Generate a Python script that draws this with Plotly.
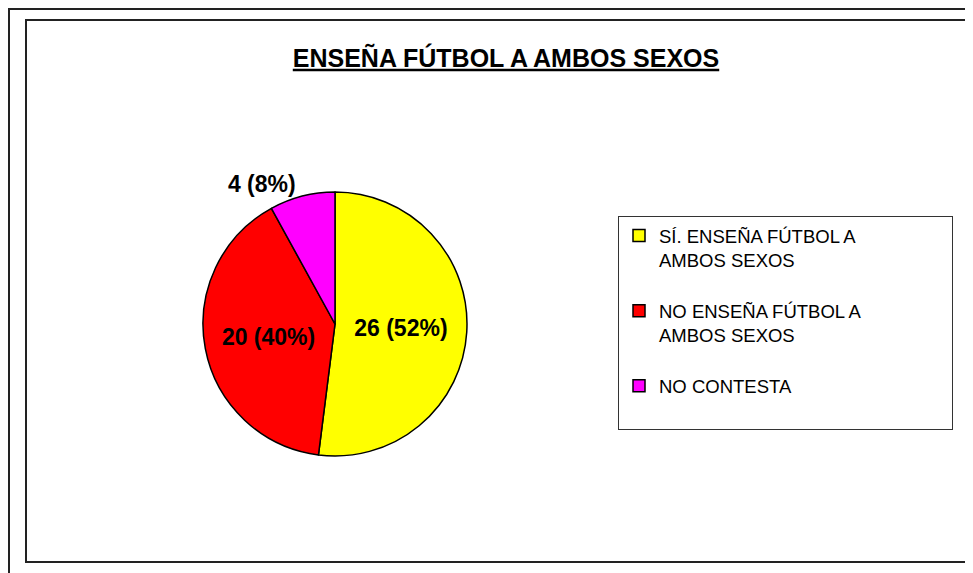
import plotly.graph_objects as go

# ---- data ----
categories = [
    "SÍ. ENSEÑA FÚTBOL A<br>AMBOS SEXOS<br>\u00a0",
    "NO ENSEÑA FÚTBOL A<br>AMBOS SEXOS<br>\u00a0",
    "NO CONTESTA<br>\u00a0",
]
values = [26, 20, 4]
colors = ["#FFFF00", "#FF0000", "#FF00FF"]
title_text = "ENSEÑA FÚTBOL A AMBOS SEXOS"

# ---- geometry helpers (layout only) ----
# the page body has an 8px margin, so the figure is offset by 8px
OFF = 8
W, H = 973 - OFF, 573 - OFF
MR = 360
PW = W - MR


def px(x):
    return (x - OFF) / PW


def py(y):
    return (H - (y - OFF)) / H


FONT = "Arial, Liberation Sans, sans-serif"

fig = go.Figure(
    go.Pie(
        labels=categories,
        values=values,
        sort=False,
        direction="clockwise",
        rotation=0,
        marker=dict(colors=colors, line=dict(color="#000000", width=1.5)),
        texttemplate="%{value} (%{percent:.0%})",
        textposition=["inside", "inside", "outside"],
        insidetextorientation="horizontal",
        textfont=dict(family=FONT, size=23, color="#000000", weight="bold"),
        hoverinfo="skip",
        domain=dict(x=[px(203), px(467)], y=[py(456), py(192)]),
    )
)

line_col = "#222222"
fig.update_layout(
    width=W,
    height=H,
    margin=dict(l=0, r=MR, t=0, b=0, autoexpand=False),
    paper_bgcolor="white",
    plot_bgcolor="white",
    title=dict(
        text="<b>" + title_text + "</b>",
        xref="container",
        yref="container",
        x=(506 - OFF) / W,
        y=1 - (58 - OFF) / H,
        xanchor="center",
        yanchor="middle",
        font=dict(family=FONT, size=25, color="#000000", lineposition="under"),
    ),
    legend=dict(
        orientation="h",
        entrywidth=288,
        entrywidthmode="pixels",
        x=px(618),
        xanchor="left",
        y=py(216),
        yanchor="top",
        valign="top",
        bgcolor="white",
        bordercolor="#333333",
        borderwidth=1,
        font=dict(family=FONT, size=18.5, color="#000000"),
        traceorder="normal",
    ),
    shapes=[
        dict(type="line", xref="paper", yref="paper",
             x0=px(8), y0=py(9), x1=px(973), y1=py(9),
             line=dict(color=line_col, width=2)),
        dict(type="line", xref="paper", yref="paper",
             x0=px(9), y0=py(9), x1=px(9), y1=py(573),
             line=dict(color=line_col, width=2)),
        dict(type="rect", xref="paper", yref="paper",
             x0=px(26), y0=py(562), x1=px(966), y1=py(20),
             line=dict(color=line_col, width=2), fillcolor="rgba(0,0,0,0)"),
    ],
)

fig.write_html("out.html")
